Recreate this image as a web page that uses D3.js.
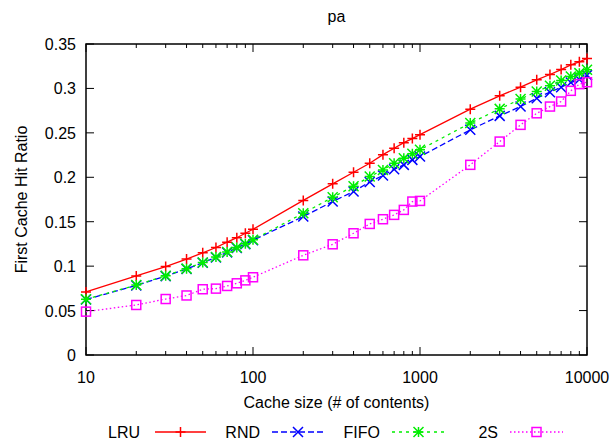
<!DOCTYPE html>
<html>
<head>
<meta charset="utf-8">
<script src="https://cdn.jsdelivr.net/npm/d3@7"></script>
<style>
  body { margin: 0; background: #fff; }
  svg { display: block; font-family: "Liberation Sans", Arial, sans-serif; }
</style>
</head>
<body>
<div id="chart"></div>
<script>
// cache sizes shared by all series
var cacheSizes = [10, 20, 30, 40, 50, 60, 70, 80, 90, 100,
  200, 300, 400, 500, 600, 700, 800, 900, 1000,
  2000, 3000, 4000, 5000, 6000, 7000, 8000, 9000, 10000];

var lruValues = [0.071, 0.089, 0.0995, 0.108, 0.115, 0.121, 0.127, 0.132, 0.137, 0.1415,
  0.174, 0.1926, 0.2057, 0.2158, 0.2255, 0.2327, 0.239, 0.2436, 0.248,
  0.2767, 0.2917, 0.3014, 0.3097, 0.3157, 0.3212, 0.3266, 0.33, 0.3337];
var rndValues = [0.0625, 0.0783, 0.0888, 0.0968, 0.1038, 0.1098, 0.1155, 0.1205, 0.1248, 0.1292,
  0.1558, 0.1727, 0.184, 0.1948, 0.202, 0.209, 0.214, 0.2196, 0.2233,
  0.2534, 0.2691, 0.2796, 0.289, 0.2958, 0.3014, 0.3066, 0.31, 0.315];
var fifoValues = [0.0628, 0.0787, 0.0892, 0.0972, 0.1042, 0.1102, 0.116, 0.121, 0.1252, 0.1296,
  0.1595, 0.1775, 0.19, 0.2008, 0.2083, 0.2158, 0.2215, 0.2264, 0.231,
  0.261, 0.277, 0.288, 0.2966, 0.303, 0.309, 0.3134, 0.3172, 0.321];
var twoSValues = [0.0488, 0.0563, 0.063, 0.067, 0.074, 0.0747, 0.0777, 0.0807, 0.084, 0.0875,
  0.1122, 0.1246, 0.137, 0.1475, 0.1528, 0.1577, 0.1633, 0.1727, 0.1734,
  0.214, 0.2402, 0.259, 0.272, 0.2796, 0.2853, 0.2973, 0.3048, 0.307];

var xTickValues = [10, 100, 1000, 10000];
var yTickValues = [0, 0.05, 0.1, 0.15, 0.2, 0.25, 0.3, 0.35];

var series = [
  { name: "LRU", values: lruValues, color: "#ff0000", dash: null, marker: "plus" },
  { name: "RND", values: rndValues, color: "#0000ff", dash: "6,3", marker: "cross" },
  { name: "FIFO", values: fifoValues, color: "#00ee00", dash: "3,4", marker: "star" },
  { name: "2S", values: twoSValues, color: "#ff00ff", dash: "1.5,2.5", marker: "square" }
];

var W = 614, H = 443;
var margin = { left: 86, right: 27, top: 44, bottom: 88 };
var pw = W - margin.left - margin.right, ph = H - margin.top - margin.bottom;

var svg = d3.select("#chart").append("svg").attr("width", W).attr("height", H);
var g = svg.append("g").attr("transform", "translate(" + margin.left + "," + margin.top + ")");

var x = d3.scaleLog().domain([10, 10000]).range([0, pw]);
var y = d3.scaleLinear().domain([0, 0.35]).range([ph, 0]);

// minor log ticks
var minor = [];
[10, 100, 1000].forEach(function(d) {
  for (var k = 2; k <= 9; k++) minor.push(d * k);
});

var tickStroke = "#000";
g.selectAll(".xmin").data(minor).enter().append("g").each(function(d) {
  var s = d3.select(this);
  s.append("line").attr("x1", x(d)).attr("x2", x(d)).attr("y1", ph).attr("y2", ph - 4).attr("stroke", tickStroke);
  s.append("line").attr("x1", x(d)).attr("x2", x(d)).attr("y1", 0).attr("y2", 4).attr("stroke", tickStroke);
});
g.selectAll(".xmaj").data(xTickValues).enter().append("g").each(function(d) {
  var s = d3.select(this);
  s.append("line").attr("x1", x(d)).attr("x2", x(d)).attr("y1", ph).attr("y2", ph - 8).attr("stroke", tickStroke);
  s.append("line").attr("x1", x(d)).attr("x2", x(d)).attr("y1", 0).attr("y2", 8).attr("stroke", tickStroke);
  s.append("text").attr("x", x(d)).attr("y", ph + 28).attr("text-anchor", "middle")
    .attr("font-size", 16).text(d);
});
g.selectAll(".ymaj").data(yTickValues).enter().append("g").each(function(d) {
  var s = d3.select(this);
  s.append("line").attr("x1", 0).attr("x2", 8).attr("y1", y(d)).attr("y2", y(d)).attr("stroke", tickStroke);
  s.append("line").attr("x1", pw).attr("x2", pw - 8).attr("y1", y(d)).attr("y2", y(d)).attr("stroke", tickStroke);
  s.append("text").attr("x", -10).attr("y", y(d) + 6).attr("text-anchor", "end")
    .attr("font-size", 16).text(d3.format("")(d));
});

g.append("rect").attr("width", pw).attr("height", ph).attr("fill", "none")
  .attr("stroke", "#000").attr("stroke-width", 1.5);

function drawMarker(sel, type, color, size) {
  var r = size;
  if (type === "plus") {
    sel.append("path").attr("d", "M" + (-r) + ",0H" + r + "M0," + (-r) + "V" + r);
  } else if (type === "cross") {
    sel.append("path").attr("d", "M" + (-r) + "," + (-r) + "L" + r + "," + r + "M" + (-r) + "," + r + "L" + r + "," + (-r));
  } else if (type === "star") {
    sel.append("path").attr("d", "M" + (-r) + ",0H" + r + "M0," + (-r) + "V" + r +
      "M" + (-r) + "," + (-r) + "L" + r + "," + r + "M" + (-r) + "," + r + "L" + r + "," + (-r));
  } else if (type === "square") {
    sel.append("rect").attr("x", -r).attr("y", -r).attr("width", 2 * r).attr("height", 2 * r).attr("fill", "none");
  }
  sel.selectAll("path,rect").attr("stroke", color).attr("stroke-width", 1.5).attr("fill", "none");
}

var line = d3.line().x(function(d) { return x(d[0]); }).y(function(d) { return y(d[1]); });

series.forEach(function(s) {
  var pts = cacheSizes.map(function(c, i) { return [c, s.values[i]]; });
  g.append("path").datum(pts).attr("d", line).attr("fill", "none")
    .attr("stroke", s.color).attr("stroke-width", 1.3)
    .attr("stroke-dasharray", s.dash);
  pts.forEach(function(p) {
    var m = g.append("g").attr("transform", "translate(" + x(p[0]) + "," + y(p[1]) + ")");
    drawMarker(m, s.marker, s.color, s.marker === "square" ? 4.5 : 5);
  });
});

// titles
svg.append("text").attr("x", margin.left + pw / 2).attr("y", 22).attr("text-anchor", "middle")
  .attr("font-size", 16).text("pa");
svg.append("text").attr("x", margin.left + pw / 2).attr("y", 408).attr("text-anchor", "middle")
  .attr("font-size", 16).text("Cache size (# of contents)");
svg.append("text").attr("transform", "translate(27," + (margin.top + ph / 2) + ") rotate(-90)")
  .attr("text-anchor", "middle").attr("font-size", 16).text("First Cache Hit Ratio");

// legend
var legendPos = [
  { tx: 140, lx1: 155, lx2: 206 },
  { tx: 260, lx1: 272, lx2: 324 },
  { tx: 380, lx1: 392, lx2: 445 },
  { tx: 498, lx1: 510, lx2: 563 }
];
var ly = 432;
series.forEach(function(s, i) {
  var p = legendPos[i];
  svg.append("text").attr("x", p.tx).attr("y", ly + 6).attr("text-anchor", "end")
    .attr("font-size", 16).text(s.name);
  svg.append("line").attr("x1", p.lx1).attr("x2", p.lx2).attr("y1", ly).attr("y2", ly)
    .attr("stroke", s.color).attr("stroke-width", 1.3).attr("stroke-dasharray", s.dash);
  var m = svg.append("g").attr("transform", "translate(" + ((p.lx1 + p.lx2) / 2) + "," + ly + ")");
  drawMarker(m, s.marker, s.color, s.marker === "square" ? 4.5 : 5);
});
</script>
</body>
</html>
